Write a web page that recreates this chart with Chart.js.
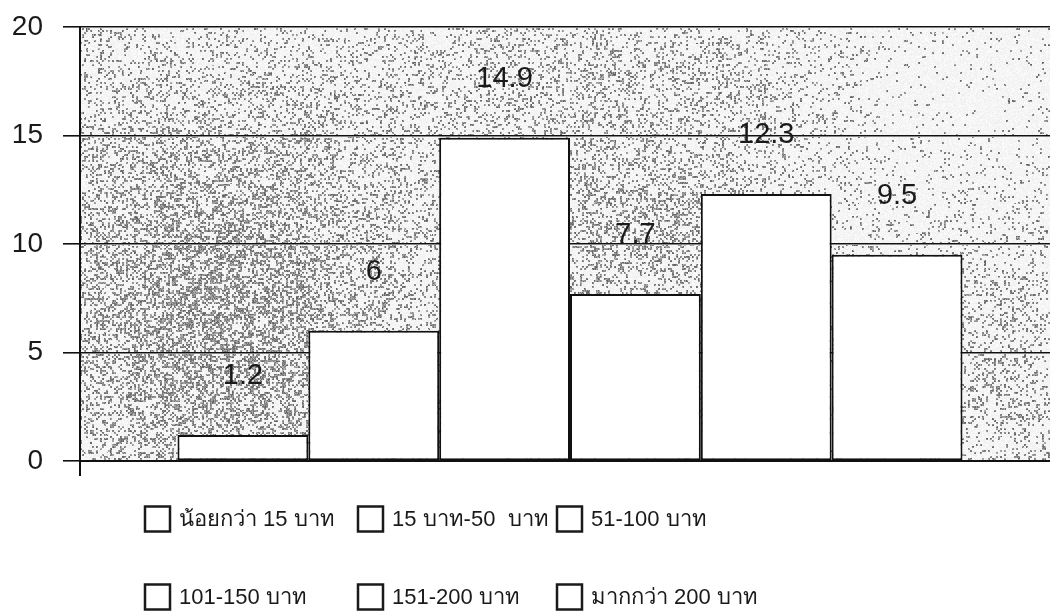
<!DOCTYPE html>
<html>
<head>
<meta charset="utf-8">
<script src="https://cdn.jsdelivr.net/npm/chart.js@4.4.1/dist/chart.umd.min.js"></script>
<style>
html,body{margin:0;padding:0;background:#fff;overflow:hidden;}
#wrap{width:1050px;height:613px;position:relative;overflow:hidden;}
canvas{display:block;}
</style>
</head>
<body>
<div id="wrap"><canvas id="c" width="1060" height="613"></canvas></div>
<script>
// ---- data ----
const categories = [''];
const seriesLabels = ['น้อยกว่า 15 บาท', '15 บาท-50  บาท', '51-100 บาท', '101-150 บาท', '151-200 บาท', 'มากกว่า 200 บาท'];
const seriesValues = [1.2, 6, 14.9, 7.7, 12.3, 9.5];
const valueLabels = ['1.2', '6', '14.9', '7.7', '12.3', '9.5'];
const yTicks = [0, 5, 10, 15, 20];

const FONT = '"Liberation Sans", Arial, "Noto Sans", sans-serif';

// deterministic speckle texture for the plot background
function hash(x, y, s) {
  const v = Math.sin(x * 12.9898 + y * 78.233 + s * 37.719) * 43758.5453;
  return v - Math.floor(v);
}
function g(x, y, cx, cy, sx, sy) {
  const dx = (x - cx) / sx, dy = (y - cy) / sy;
  return Math.exp(-(dx * dx + dy * dy));
}
function density(x, y) {
  let d = 0.14
    + 0.40 * g(x, y, 220, 310, 160, 190)
    + 0.22 * g(x, y, 640, 230, 130, 90)
    + 0.12 * g(x, y, 600, 70, 220, 60)
    + 0.10 * g(x, y, 1000, 360, 90, 120)
    - 0.12 * g(x, y, 960, 100, 160, 120)
    - 0.06 * g(x, y, 300, 40, 200, 40);
  return Math.max(0.03, Math.min(0.7, d));
}
const texturePlugin = {
  id: 'texture',
  beforeDatasetsDraw(chart) {
    const a = chart.chartArea;
    const ctx = chart.ctx;
    const x0 = Math.round(a.left) + 1, y0 = Math.round(a.top);
    const w = Math.round(a.right) - x0, h = Math.round(a.bottom) - y0;
    if (w <= 0 || h <= 0) return;
    const img = ctx.getImageData(x0, y0, w, h);
    const px = img.data;
    for (let j = 0; j < h; j++) {
      for (let i = 0; i < w; i++) {
        const X = x0 + i, Y = y0 + j;
        const idx = (j * w + i) * 4;
        if (px[idx + 3] > 60) continue; // keep grid lines
        const cx = Math.floor(X / 2), cy = Math.floor(Y / 2);
        const p = density(X, Y);
        const r = hash(cx, cy, 1);
        let v;
        if (r < p) {
          v = 95 + Math.floor(hash(X, Y, 2) * 90);
        } else {
          v = 238 + Math.floor(hash(X, Y, 3) * 15);
        }
        px[idx] = px[idx + 1] = px[idx + 2] = v;
        px[idx + 3] = 255;
      }
    }
    ctx.putImageData(img, x0, y0);
  }
};

const valueLabelPlugin = {
  id: 'valueLabels',
  afterDatasetsDraw(chart) {
    const ctx = chart.ctx;
    ctx.save();
    ctx.font = '29px ' + FONT;
    ctx.fillStyle = '#1a1a1a';
    ctx.textAlign = 'center';
    ctx.textBaseline = 'middle';
    chart.data.datasets.forEach((ds, i) => {
      const el = chart.getDatasetMeta(i).data[0];
      ctx.fillText(valueLabels[i], el.x, el.y - 59);
    });
    ctx.restore();
  }
};

const legendPlugin = {
  id: 'gridLegend',
  afterDraw(chart) {
    const ctx = chart.ctx;
    const cols = [145, 358, 557];
    const rows = [519, 597];
    const box = 25;
    ctx.save();
    ctx.font = '22px ' + FONT;
    ctx.textAlign = 'left';
    ctx.textBaseline = 'middle';
    chart.data.datasets.forEach((ds, i) => {
      const x = cols[i % 3], y = rows[Math.floor(i / 3)];
      ctx.fillStyle = '#fff';
      ctx.fillRect(x, y - box / 2, box, box);
      ctx.lineWidth = 2.5;
      ctx.strokeStyle = '#1a1a1a';
      ctx.strokeRect(x, y - box / 2, box, box);
      ctx.fillStyle = '#1a1a1a';
      ctx.fillText(ds.label, x + box + 9, y + 1);
    });
    ctx.restore();
  }
};

const datasets = seriesLabels.map((lab, i) => ({
  label: lab,
  data: [seriesValues[i]],
  backgroundColor: '#ffffff',
  borderColor: '#111111',
  borderWidth: 2,
  borderSkipped: false,
  categoryPercentage: 0.801,
  barPercentage: 1.0
}));

new Chart(document.getElementById('c'), {
  type: 'bar',
  data: { labels: categories, datasets },
  options: {
    responsive: false,
    animation: false,
    devicePixelRatio: 1,
    layout: { padding: { top: 27, right: 0, bottom: 152, left: 0 } },
    plugins: { legend: { display: false }, tooltip: { enabled: false } },
    scales: {
      x: {
        grid: { display: true, offset: true, drawOnChartArea: false, drawTicks: true, tickLength: 15, color: '#111', lineWidth: 2 },
        border: { display: true, color: '#111', width: 2 },
        ticks: { display: false },
        afterFit(s) { s.height = 0; s.paddingLeft = 0; s.paddingRight = 0; }
      },
      y: {
        min: 0, max: 20,
        afterBuildTicks(s) { s.ticks = yTicks.map(v => ({ value: v })); },
        grid: { color: '#111', lineWidth: 1.6, tickLength: 17, drawTicks: true },
        border: { display: true, color: '#111', width: 2 },
        ticks: { font: { family: FONT, size: 28 }, color: '#1a1a1a', padding: 20 },
        afterFit(s) { s.width = 80; s.paddingTop = 0; s.paddingBottom = 0; }
      }
    }
  },
  plugins: [texturePlugin, valueLabelPlugin, legendPlugin]
});
</script>
</body>
</html>
